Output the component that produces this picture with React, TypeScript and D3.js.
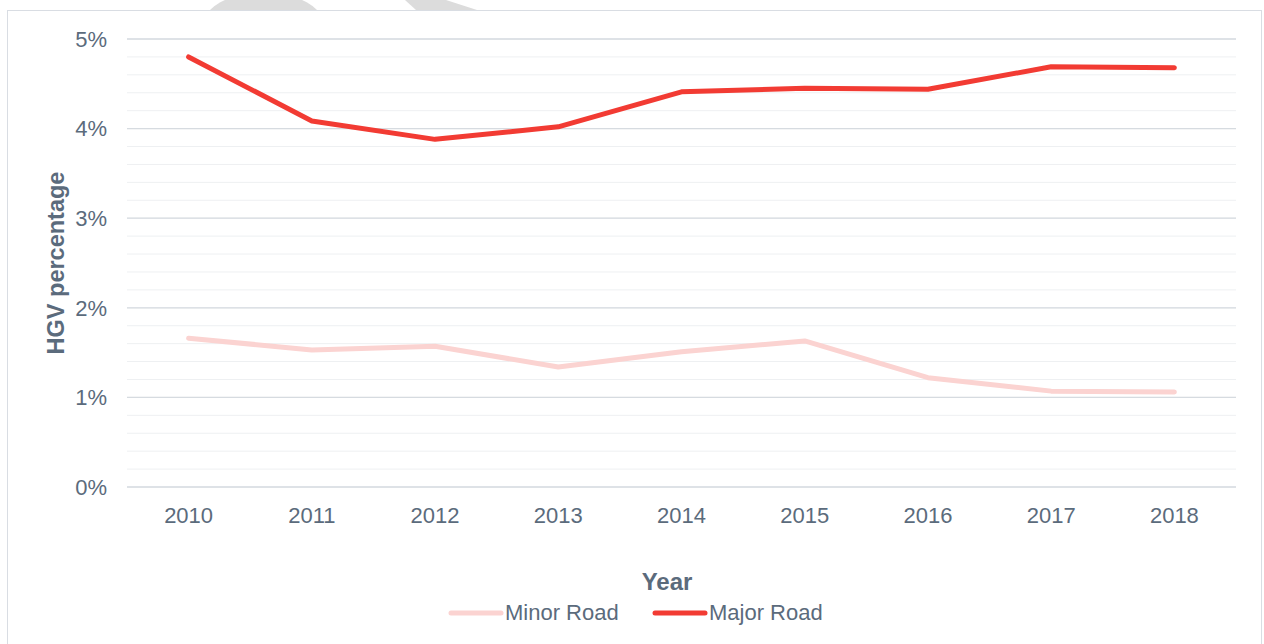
import React from "react";
import * as d3 from "d3";

const years = ["2010", "2011", "2012", "2013", "2014", "2015", "2016", "2017", "2018"];
const minorRoad = [1.66, 1.53, 1.57, 1.34, 1.51, 1.63, 1.22, 1.07, 1.06];
const majorRoad = [4.8, 4.085, 3.88, 4.02, 4.41, 4.45, 4.44, 4.69, 4.68];
const majorTicks = [0, 1, 2, 3, 4, 5];
const minorTicks = d3.range(0, 5.01, 0.2);
const seriesNames = ["Minor Road", "Major Road"];
const seriesColors = ["#fbd3d1", "#f23b33"];

const W = 1264;
const H = 644;
const font = "Arial, 'Liberation Sans', sans-serif";
const textColor = "#5b6b7c";

export default function App() {
  const x = d3.scalePoint<string>().domain(years).range([127, 1236]).padding(0.5);
  const y = d3.scaleLinear().domain([0, 5]).range([487, 39]);
  const line = d3
    .line<number>()
    .x((_, i) => x(years[i]) as number)
    .y((d) => y(d));

  const series = [minorRoad, majorRoad];

  return (
    <svg
      width={W}
      height={H}
      style={{ position: "fixed", left: 0, top: 0, background: "#fff" }}
      fontFamily={font}
    >
      {/* watermark fragments above the frame */}
      <path d="M210,10 A62,36 0 0 1 317,10 Z" fill="#dcdcdc" />
      <path d="M405,0 L446,0 L477,10 L416,10 Z" fill="#dcdcdc" />
      {/* frame */}
      <rect x={7.5} y={10.5} width={1254} height={640} fill="none" stroke="#d9dde3" strokeWidth={1} />

      {/* gridlines */}
      {minorTicks.map((t, i) => (
        <line
          key={"m" + i}
          x1={127}
          x2={1236}
          y1={y(t)}
          y2={y(t)}
          stroke="#eef0f2"
          strokeWidth={1}
        />
      ))}
      {majorTicks.map((t) => (
        <line key={"M" + t} x1={127} x2={1236} y1={y(t)} y2={y(t)} stroke="#d6dbe0" strokeWidth={1.3} />
      ))}

      {/* y tick labels */}
      {majorTicks.map((t) => (
        <text
          key={"yt" + t}
          x={107}
          y={y(t)}
          dy="0.35em"
          textAnchor="end"
          fontSize={22}
          fill={textColor}
        >
          {t + "%"}
        </text>
      ))}

      {/* x tick labels */}
      {years.map((yr) => (
        <text key={yr} x={x(yr)} y={523} textAnchor="middle" fontSize={22} fill={textColor}>
          {yr}
        </text>
      ))}

      {/* axis titles */}
      <text
        transform={`translate(64,263) rotate(-90)`}
        textAnchor="middle"
        fontSize={23.5}
        fontWeight="bold"
        fill={textColor}
      >
        HGV percentage
      </text>
      <text x={667} y={590} textAnchor="middle" fontSize={24} fontWeight="bold" fill={textColor}>
        Year
      </text>

      {/* series lines */}
      {series.map((s, i) => (
        <path
          key={seriesNames[i]}
          d={line(s) as string}
          fill="none"
          stroke={seriesColors[i]}
          strokeWidth={5}
          strokeLinejoin="round"
          strokeLinecap="round"
        />
      ))}

      {/* legend */}
      {seriesNames.map((n, i) => {
        const lx = i === 0 ? 451 : 655;
        return (
          <g key={"lg" + n}>
            <line
              x1={lx}
              x2={lx + 50}
              y1={613}
              y2={613}
              stroke={seriesColors[i]}
              strokeWidth={5}
              strokeLinecap="round"
            />
            <text x={lx + 54} y={620} fontSize={22} fill={textColor}>
              {n}
            </text>
          </g>
        );
      })}
    </svg>
  );
}
